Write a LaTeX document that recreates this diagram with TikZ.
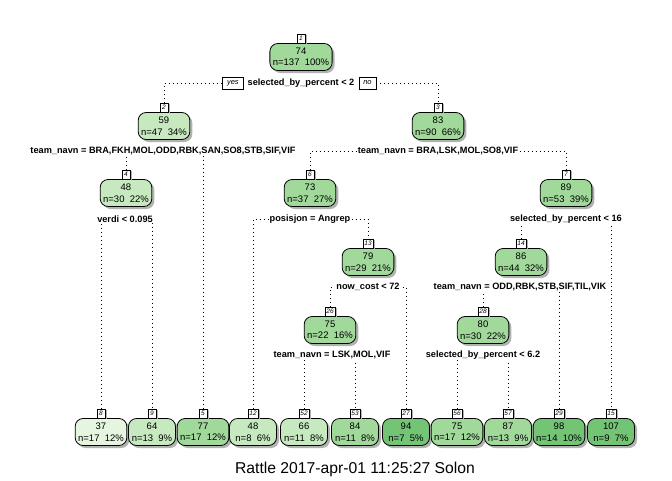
\documentclass[tikz,border=0pt]{standalone}
\usepackage{fontspec}
\setmainfont{Liberation Sans}
\usetikzlibrary{positioning,shadows,backgrounds}
\definecolor{greenA}{HTML}{E5F5E0}
\definecolor{greenB}{HTML}{C7E9C0}
\definecolor{greenC}{HTML}{A1D99B}
\definecolor{greenD}{HTML}{74C476}
\tikzset{
  tnode/.style={draw, line width=0.8pt, rounded corners=8pt, minimum width=47pt,
    minimum height=27pt, inner xsep=3pt, inner ysep=1pt, align=center,
    font=\fontsize{9.5}{11.5}\selectfont,
    drop shadow={shadow xshift=2.5pt, shadow yshift=-2.5pt, fill=black!30, opacity=1}},
  lab/.style={draw, fill=white, line width=0.6pt, inner xsep=1.5pt, inner ysep=0.5pt,
    minimum width=8pt, minimum height=9pt, font=\fontsize{6.5}{6.5}\selectfont\itshape,
    drop shadow={shadow xshift=1.5pt, shadow yshift=-1.5pt, fill=black!30, opacity=1}},
  split/.style={fill=white, inner sep=1pt, font=\fontsize{9.2}{11}\selectfont\bfseries},
  yesno/.style={draw, fill=white, line width=0.6pt, inner xsep=4.5pt, inner ysep=1pt,
    minimum height=12pt, font=\fontsize{7.5}{8}\selectfont\itshape},
  branch/.style={line width=0.9pt, dash pattern=on 0.9pt off 3.1pt}
}
\begin{document}
\begin{tikzpicture}[x=1pt,y=-1pt]
    \useasboundingbox (0,0) rectangle (672,480);

    % Inner nodes
    \foreach \id/\x/\y/\val/\n/\p/\col in {1/301/57/74/137/100/greenC, 2/164/126/59/47/34/greenB,
        3/438/126/83/90/66/greenC, 4/126/193/48/30/22/greenB, 6/310/193/73/37/27/greenC,
        7/566/193/89/53/39/greenC, 13/368/262/79/29/21/greenC, 14/521/262/86/44/32/greenC,
        26/330/330/75/22/16/greenC, 28/483/330/80/30/22/greenC} {
        \node[tnode, fill=\col] (n\id) at (\x,\y) {\val\\n=\n~~\p\%}; % Box
        \node[lab, above=0pt of n\id] (l\id) {\id}; % Number
      }

    % Leaves
    \foreach \id/\x/\val/\n/\p/\col in {8/101/37/17/12/greenA, 9/152/64/13/9/greenB,
        5/203/77/17/12/greenC, 12/253/48/8/6/greenB, 52/304/66/11/8/greenB,
        53/355/84/11/8/greenC, 27/406/94/7/5/greenD, 56/457/75/17/12/greenC,
        57/508/87/13/9/greenC, 29/559/98/14/10/greenD, 15/611/107/9/7/greenD} {
        \node[tnode, fill=\col] (n\id) at (\x,432) {\val\\n=\n~~\p\%};
        \node[lab, above=0pt of n\id] (l\id) {\id};
      }

    % Splits
    \node[split] (s1) at (301,83) {selected\_by\_percent < 2};
    \node[yesno, left=3pt of s1] (yes) {yes};
    \node[yesno, right=3pt of s1] (no) {no};
    \node[split] (s2) at (163,151) {team\_navn = BRA,FKH,MOL,ODD,RBK,SAN,SO8,STB,SIF,VIF};
    \node[split] (s3) at (438,151) {team\_navn = BRA,LSK,MOL,SO8,VIF};
    \node[split] (s4) at (125,219) {verdi < 0.095};
    \node[split] (s6) at (310,219) {posisjon = Angrep};
    \node[split] (s7) at (566,219) {selected\_by\_percent < 16};
    \node[split] (s13) at (368,287) {now\_cost < 72};
    \node[split] (s14) at (520,287) {team\_navn = ODD,RBK,STB,SIF,TIL,VIK};
    \node[split] (s26) at (332,355) {team\_navn = LSK,MOL,VIF};
    \node[split] (s28) at (483,355) {selected\_by\_percent < 6.2};

    % Branches
    \begin{scope}[on background layer]
      \draw[branch] (l2.north) |- (yes.west);
      \draw[branch] (no.east) -| (l3.north);
      \foreach \s/\a/\b in {2/4/5, 3/6/7, 4/8/9, 6/12/13, 7/14/15, 13/26/27, 14/28/29,
          26/52/53, 28/56/57} {
          \draw[branch] (l\a.north) |- (s\s.center) -| (l\b.north);
        }
    \end{scope}

    \node[font=\fontsize{15.7}{18}\selectfont] (title) at (355,469) {Rattle 2017-apr-01 11:25:27 Solon}; % Caption
  \end{tikzpicture}
\end{document}
